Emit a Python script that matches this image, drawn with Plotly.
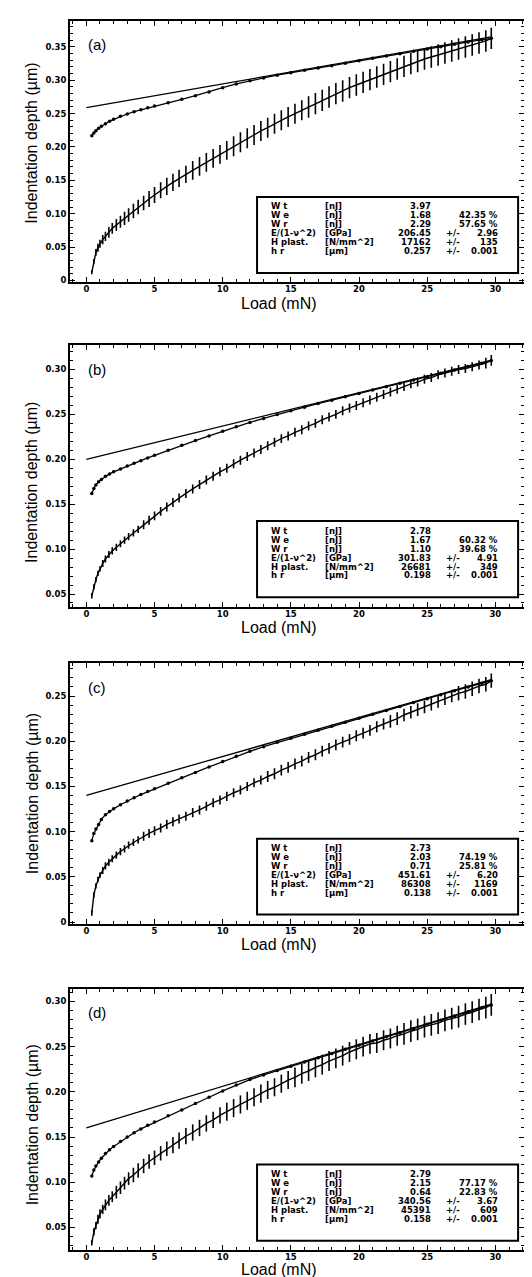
import plotly.graph_objects as go

# ---------------- data ----------------
load = [0.4, 0.55, 0.7, 0.85, 1.0, 1.2, 1.4, 1.65, 1.9, 2.2,
        2.5, 2.8, 3.1, 3.45, 3.8, 4.2, 4.6, 5.0, 5.45, 5.9,
        6.35, 6.8, 7.3, 7.8, 8.3, 8.8, 9.3, 9.8, 10.3, 10.8,
        11.3, 11.8, 12.3, 12.8, 13.3, 13.8, 14.3, 14.8, 15.3, 15.8,
        16.3, 16.8, 17.3, 17.8, 18.3, 18.8, 19.3, 19.8, 20.3, 20.8,
        21.3, 21.8, 22.3, 22.8, 23.3, 23.8, 24.3, 24.8, 25.3, 25.8,
        26.3, 26.8, 27.3, 27.8, 28.3, 28.8, 29.3, 29.7]

depth_load_a = [0.012, 0.028, 0.042, 0.049, 0.055, 0.061, 0.066, 0.072, 0.078, 0.083,
                0.088, 0.093, 0.098, 0.104, 0.110, 0.116, 0.122, 0.128, 0.135, 0.141,
                0.147, 0.153, 0.159, 0.165, 0.171, 0.177, 0.183, 0.189, 0.195, 0.201,
                0.207, 0.213, 0.218, 0.224, 0.229, 0.235, 0.240, 0.245, 0.250, 0.255,
                0.260, 0.265, 0.270, 0.275, 0.280, 0.284, 0.289, 0.293, 0.297, 0.301,
                0.305, 0.309, 0.313, 0.317, 0.321, 0.325, 0.328, 0.332, 0.335, 0.338,
                0.341, 0.344, 0.347, 0.350, 0.353, 0.356, 0.359, 0.363]
err_a = [0.003, 0.004, 0.005, 0.006, 0.006, 0.007, 0.007, 0.008, 0.008, 0.009,
         0.009, 0.010, 0.010, 0.011, 0.011, 0.011, 0.012, 0.012, 0.012, 0.013,
         0.013, 0.013, 0.013, 0.014, 0.014, 0.014, 0.014, 0.014, 0.014, 0.015,
         0.015, 0.015, 0.015, 0.015, 0.015, 0.015, 0.015, 0.015, 0.015, 0.015,
         0.016, 0.016, 0.016, 0.016, 0.016, 0.016, 0.016, 0.016, 0.016, 0.016,
         0.016, 0.016, 0.016, 0.016, 0.016, 0.016, 0.016, 0.016, 0.016, 0.016,
         0.016, 0.016, 0.016, 0.016, 0.016, 0.016, 0.016, 0.016]

depth_load_b = [0.048, 0.058, 0.066, 0.073, 0.078, 0.084, 0.089, 0.094, 0.098, 0.102,
                0.106, 0.110, 0.114, 0.118, 0.122, 0.127, 0.132, 0.137, 0.142, 0.147,
                0.152, 0.157, 0.162, 0.167, 0.172, 0.177, 0.181, 0.186, 0.190, 0.195,
                0.199, 0.203, 0.207, 0.211, 0.215, 0.219, 0.223, 0.226, 0.230, 0.233,
                0.237, 0.240, 0.244, 0.247, 0.250, 0.254, 0.257, 0.260, 0.263, 0.266,
                0.269, 0.272, 0.275, 0.278, 0.281, 0.284, 0.286, 0.289, 0.291, 0.294,
                0.296, 0.298, 0.300, 0.301, 0.303, 0.305, 0.307, 0.310]
err_b = [0.003, 0.003, 0.003, 0.003, 0.003, 0.004, 0.004, 0.004, 0.004, 0.004,
         0.004, 0.004, 0.004, 0.004, 0.004, 0.005, 0.005, 0.005, 0.005, 0.005,
         0.005, 0.005, 0.005, 0.005, 0.005, 0.005, 0.005, 0.005, 0.005, 0.005,
         0.005, 0.005, 0.005, 0.005, 0.005, 0.005, 0.005, 0.005, 0.005, 0.005,
         0.005, 0.005, 0.005, 0.005, 0.005, 0.005, 0.005, 0.005, 0.005, 0.005,
         0.005, 0.005, 0.005, 0.005, 0.005, 0.005, 0.005, 0.005, 0.005, 0.005,
         0.005, 0.005, 0.005, 0.005, 0.005, 0.005, 0.006, 0.006]

depth_load_c = [0.010, 0.030, 0.040, 0.047, 0.052, 0.057, 0.062, 0.066, 0.070, 0.074,
                0.078, 0.081, 0.085, 0.088, 0.091, 0.095, 0.098, 0.101, 0.104, 0.108,
                0.111, 0.114, 0.117, 0.121, 0.124, 0.128, 0.132, 0.135, 0.139, 0.143,
                0.146, 0.150, 0.154, 0.157, 0.161, 0.164, 0.168, 0.171, 0.175, 0.178,
                0.182, 0.185, 0.189, 0.192, 0.196, 0.199, 0.202, 0.206, 0.209, 0.212,
                0.216, 0.219, 0.222, 0.225, 0.229, 0.232, 0.235, 0.238, 0.241, 0.244,
                0.247, 0.250, 0.253, 0.255, 0.258, 0.261, 0.263, 0.267]
err_c = [0.003, 0.003, 0.003, 0.003, 0.003, 0.004, 0.004, 0.004, 0.004, 0.004,
         0.004, 0.004, 0.004, 0.004, 0.004, 0.005, 0.005, 0.005, 0.005, 0.005,
         0.005, 0.005, 0.005, 0.005, 0.005, 0.005, 0.005, 0.005, 0.005, 0.005,
         0.005, 0.005, 0.005, 0.005, 0.006, 0.006, 0.006, 0.006, 0.006, 0.006,
         0.006, 0.006, 0.006, 0.006, 0.006, 0.006, 0.006, 0.006, 0.006, 0.006,
         0.006, 0.006, 0.007, 0.007, 0.007, 0.007, 0.007, 0.007, 0.007, 0.007,
         0.007, 0.007, 0.008, 0.008, 0.008, 0.008, 0.008, 0.008]

depth_load_d = [0.033, 0.045, 0.052, 0.059, 0.065, 0.070, 0.075, 0.080, 0.084, 0.089,
                0.094, 0.099, 0.104, 0.108, 0.113, 0.118, 0.123, 0.127, 0.132, 0.137,
                0.141, 0.146, 0.151, 0.155, 0.160, 0.165, 0.169, 0.174, 0.178, 0.182,
                0.186, 0.190, 0.194, 0.198, 0.202, 0.205, 0.209, 0.213, 0.216, 0.220,
                0.223, 0.227, 0.230, 0.234, 0.237, 0.240, 0.244, 0.247, 0.250, 0.253,
                0.254, 0.257, 0.259, 0.262, 0.264, 0.267, 0.269, 0.272, 0.274, 0.276,
                0.279, 0.281, 0.283, 0.286, 0.288, 0.291, 0.293, 0.296]
err_d = [0.003, 0.004, 0.004, 0.005, 0.005, 0.005, 0.006, 0.006, 0.006, 0.007,
         0.007, 0.007, 0.007, 0.008, 0.008, 0.008, 0.008, 0.008, 0.008, 0.008,
         0.009, 0.009, 0.009, 0.009, 0.009, 0.009, 0.009, 0.009, 0.010, 0.010,
         0.010, 0.010, 0.010, 0.010, 0.010, 0.010, 0.010, 0.010, 0.011, 0.011,
         0.011, 0.011, 0.011, 0.011, 0.011, 0.011, 0.011, 0.011, 0.011, 0.011,
         0.011, 0.011, 0.011, 0.011, 0.012, 0.012, 0.012, 0.012, 0.012, 0.012,
         0.012, 0.012, 0.012, 0.012, 0.012, 0.012, 0.012, 0.012]

unload = [29.7, 29.0, 28.0, 27.0, 26.0, 25.0, 24.0, 23.0, 22.0, 21.0, 20.0,
          19.0, 18.0, 17.0, 16.0, 15.0, 14.0, 13.0, 12.0, 11.0, 10.0,
          9.0, 8.0, 7.0, 6.0, 5.0, 4.5, 4.0, 3.5, 3.0, 2.5, 2.0,
          1.7, 1.4, 1.1, 0.9, 0.7, 0.55, 0.4]
depth_unload_a = [0.363, 0.361, 0.3575, 0.354, 0.3505, 0.347, 0.3435, 0.340, 0.3365, 0.333, 0.3293,
                  0.3257, 0.322, 0.3185, 0.315, 0.3113, 0.3077, 0.3035, 0.2995, 0.2945, 0.289,
                  0.2825, 0.277, 0.2715, 0.2665, 0.2615, 0.259, 0.256, 0.253, 0.2495, 0.246, 0.2415,
                  0.2385, 0.235, 0.231, 0.228, 0.2245, 0.221, 0.217]
depth_unload_b = [0.310, 0.307, 0.3033, 0.2995, 0.2958, 0.292, 0.2883, 0.2846, 0.2808, 0.277, 0.2733,
                  0.2695, 0.2657, 0.262, 0.258, 0.254, 0.2498, 0.2455, 0.241, 0.2362, 0.2313,
                  0.226, 0.2208, 0.2155, 0.2100, 0.2045, 0.2015, 0.1985, 0.1955, 0.1925, 0.1893, 0.186,
                  0.1837, 0.181, 0.1775, 0.175, 0.1715, 0.1675, 0.162]
depth_unload_c = [0.267, 0.2642, 0.2600, 0.2557, 0.2514, 0.2471, 0.2427, 0.2384, 0.234, 0.2297, 0.2253,
                  0.221, 0.2166, 0.2122, 0.2078, 0.2033, 0.1988, 0.194, 0.1888, 0.1833, 0.1775,
                  0.1715, 0.1655, 0.1595, 0.1535, 0.1475, 0.1443, 0.141, 0.1375, 0.1338, 0.1297, 0.1252,
                  0.1222, 0.1188, 0.1135, 0.108, 0.103, 0.098, 0.090]
depth_unload_d = [0.296, 0.2930, 0.2884, 0.2838, 0.2792, 0.2746, 0.270, 0.2654, 0.2608, 0.2562, 0.2516,
                  0.247, 0.2423, 0.2377, 0.233, 0.2283, 0.2235, 0.2187, 0.2135, 0.2075, 0.201,
                  0.194, 0.187, 0.180, 0.1735, 0.1665, 0.163, 0.159, 0.1548, 0.150, 0.145, 0.1395,
                  0.136, 0.1318, 0.1265, 0.1225, 0.118, 0.1135, 0.107]

tangent_x = [0.0, 29.7]
tangent_a = [0.259, 0.365]
tangent_b = [0.200, 0.310]
tangent_c = [0.140, 0.268]
tangent_d = [0.160, 0.297]

panel_labels = ["(a)", "(b)", "(c)", "(d)"]
x_ticks = [0, 5, 10, 15, 20, 25, 30]
y_ticks_a = [0, 0.05, 0.10, 0.15, 0.20, 0.25, 0.30, 0.35]
y_ticks_b = [0.05, 0.10, 0.15, 0.20, 0.25, 0.30]
y_ticks_c = [0, 0.05, 0.10, 0.15, 0.20, 0.25]
y_ticks_d = [0.05, 0.10, 0.15, 0.20, 0.25, 0.30]

row_labels = ["W t", "W e", "W r", "E/(1-\u03bd^2)", "H plast.", "h r"]
row_units = ["[nJ]", "[nJ]", "[nJ]", "[GPa]", "[N/mm^2]", "[\u00b5m]"]
values_a = ["3.97", "1.68", "2.29", "206.45", "17162", "0.257"]
extra_a = ["", "42.35 %", "57.65 %", "2.96", "135", "0.001"]
values_b = ["2.78", "1.67", "1.10", "301.83", "26681", "0.198"]
extra_b = ["", "60.32 %", "39.68 %", "4.91", "349", "0.001"]
values_c = ["2.73", "2.03", "0.71", "451.61", "86308", "0.138"]
extra_c = ["", "74.19 %", "25.81 %", "6.20", "1169", "0.001"]
values_d = ["2.79", "2.15", "0.64", "340.56", "45391", "0.158"]
extra_d = ["", "77.17 %", "22.83 %", "3.67", "609", "0.001"]

x_title = "Load (mN)"
y_title = "Indentation depth (\u00b5m)"

# ---------------- figure ----------------
W, H = 532, 1277
frames = [(13, 275), (338, 600), (657, 918), (983, 1245)]
xtitle_offsets = [21, 21, 21, 19]
x_left, x_right = 62, 516
y_ranges = [(-0.003, 0.389), (0.036, 0.327), (-0.002, 0.286), (0.025, 0.314)]
ytitle_centers = [136, 476, 788, 1120]

panels = [
    (depth_load_a, err_a, depth_unload_a, tangent_a, y_ticks_a, values_a, extra_a),
    (depth_load_b, err_b, depth_unload_b, tangent_b, y_ticks_b, values_b, extra_b),
    (depth_load_c, err_c, depth_unload_c, tangent_c, y_ticks_c, values_c, extra_c),
    (depth_load_d, err_d, depth_unload_d, tangent_d, y_ticks_d, values_d, extra_d),
]

fig = go.Figure()
layout = {}
annotations = []
shapes = []
tick_font = dict(family="DejaVu Sans", size=8.5, color="black", weight="bold")
tab_font = dict(family="DejaVu Sans", size=8.5, color="black", weight="bold")
title_font = dict(family="Liberation Sans", size=16, color="black")

for i, (dl, er, du, tg, yt, vals, extra) in enumerate(panels):
    sfx = "" if i == 0 else str(i + 1)
    xa, ya = "x" + sfx, "y" + sfx
    top, bot = frames[i]

    fig.add_trace(go.Scatter(
        x=load, y=dl, xaxis=xa, yaxis=ya, mode="lines",
        line=dict(color="black", width=1.4),
        error_y=dict(type="data", array=er, color="black", thickness=1.6, width=0),
        showlegend=False, hoverinfo="skip"))
    fig.add_trace(go.Scatter(
        x=unload, y=du, xaxis=xa, yaxis=ya, mode="lines+markers",
        line=dict(color="black", width=1.3),
        marker=dict(color="black", size=3.5),
        showlegend=False, hoverinfo="skip"))
    fig.add_trace(go.Scatter(
        x=tangent_x, y=tg, xaxis=xa, yaxis=ya, mode="lines",
        line=dict(color="black", width=1.3),
        showlegend=False, hoverinfo="skip"))

    layout["xaxis" + sfx] = dict(
        domain=[x_left / W, x_right / W], anchor=ya, range=[-1.2, 32.1],
        tickmode="array", tickvals=x_ticks, ticktext=[str(v) for v in x_ticks],
        ticks="inside", ticklen=5, tickwidth=1.4, tickcolor="black",
        ticklabelstandoff=-2,
        minor=dict(ticks="inside", ticklen=3, tickwidth=1.1, tickcolor="black",
                   tickmode="linear", tick0=0, dtick=1),
        showline=True, linewidth=1.8, linecolor="black", mirror="ticks",
        showgrid=False, zeroline=False, tickfont=tick_font, fixedrange=True)
    layout["yaxis" + sfx] = dict(
        domain=[1 - bot / H, 1 - top / H], anchor=xa, range=list(y_ranges[i]),
        tickmode="array", tickvals=yt,
        ticktext=["0" if v == 0 else "%.2f" % v for v in yt],
        ticks="inside", ticklen=5, tickwidth=1.4, tickcolor="black",
        minor=dict(ticks="inside", ticklen=3, tickwidth=1.1, tickcolor="black",
                   tickmode="linear", tick0=0, dtick=0.01),
        showline=True, linewidth=1.8, linecolor="black", mirror="ticks",
        showgrid=False, zeroline=False, tickfont=tick_font, fixedrange=True)

    xd, yd = xa + " domain", ya + " domain"
    # panel label
    annotations.append(dict(text=panel_labels[i], xref=xd, yref=yd, x=0.035,
                            y=1 - 24 / (bot - top), xanchor="left", yanchor="middle",
                            showarrow=False, font=dict(family="Liberation Sans", size=15, color="black")))
    # axis titles
    annotations.append(dict(text=x_title, xref="paper", yref="paper", x=271 / W,
                            y=1 - (bot + xtitle_offsets[i]) / H, xanchor="center", yanchor="middle",
                            showarrow=False, font=title_font))
    annotations.append(dict(text=y_title, xref="paper", yref="paper", x=24 / W,
                            y=1 - ytitle_centers[i] / H, xanchor="center", yanchor="middle",
                            textangle=-90, showarrow=False, font=title_font))
    # table box
    box_top, box_bot = 0.327, 0.036
    shapes.append(dict(type="rect", xref=xd, yref=yd, x0=0.412, x1=0.987,
                       y0=box_bot, y1=box_top, line=dict(color="black", width=2),
                       fillcolor="white", layer="above"))
    ph = bot - top
    for k in range(6):
        yy = box_top - (9.5 + 9.0 * k) / ph
        common = dict(xref=xd, yref=yd, y=yy, yanchor="middle", showarrow=False, font=tab_font)
        annotations.append(dict(text=row_labels[k], x=0.438, xanchor="left", **common))
        annotations.append(dict(text=row_units[k], x=0.557, xanchor="left", **common))
        annotations.append(dict(text=vals[k], x=0.800, xanchor="right", **common))
        if k >= 3:
            annotations.append(dict(text="+/-", x=0.844, xanchor="center", **common))
        if extra[k]:
            annotations.append(dict(text=extra[k], x=0.947, xanchor="right", **common))

fig.update_layout(
    width=W, height=H, margin=dict(l=0, r=0, t=0, b=0),
    paper_bgcolor="white", plot_bgcolor="white",
    annotations=annotations, shapes=shapes, showlegend=False, **layout)

fig.write_html("out.html")
